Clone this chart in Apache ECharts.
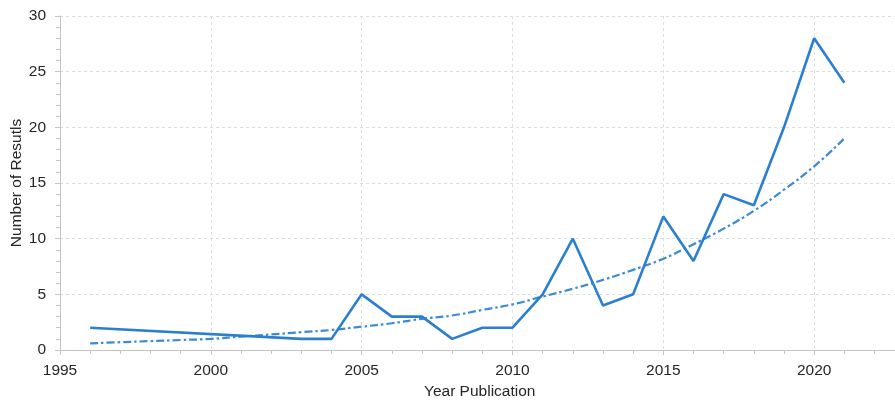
<!DOCTYPE html>
<html>
<head>
<meta charset="utf-8">
<script src="https://cdn.jsdelivr.net/npm/echarts@6/dist/echarts.min.js"></script>
<style>
  html, body { margin: 0; padding: 0; background: #fff; }
  #chart { width: 895px; height: 404px; }
</style>
</head>
<body>
<div id="chart"></div>
<script>
// Publications per year
const years  = [1996, 2003, 2004, 2005, 2006, 2007, 2008, 2009, 2010, 2011, 2012, 2013, 2014, 2015, 2016, 2017, 2018, 2019, 2020, 2021];
const counts = [2,    1,    1,    5,    3,    3,    1,    2,    2,    5,    10,   4,    5,    12,   8,    14,   13,   20,   28,   24];

// Exponential trend, one value per year
const trendYears  = [1996, 1997, 1998, 1999, 2000, 2001, 2002, 2003, 2004, 2005, 2006, 2007, 2008, 2009, 2010, 2011, 2012, 2013, 2014, 2015, 2016, 2017, 2018, 2019, 2020, 2021];
const trendValues = [0.6,  0.7,  0.8,  0.9,  1.0,  1.2,  1.4,  1.6,  1.8,  2.1,  2.4,  2.8,  3.1,  3.6,  4.1,  4.8,  5.5,  6.3,  7.2,  8.2,  9.5,  10.9, 12.5, 14.4, 16.5, 19.0];

const xTicks = [1995, 2000, 2005, 2010, 2015, 2020];
const yTicks = [0, 5, 10, 15, 20, 25, 30];

const FONT = 'Liberation Sans, Arial, Helvetica, sans-serif';
const TEXT = '#262626';
const AXIS = '#c4c4c4';
const GRIDC = '#dedede';

const chart = echarts.init(document.getElementById('chart'), null, { renderer: 'canvas' });

chart.setOption({
  animation: false,
  backgroundColor: '#fff',
  // the x axis runs on past the right edge of the canvas
  grid: { left: 60, top: 16, height: 334, width: 905, containLabel: false, outerBoundsMode: 'none' },
  xAxis: {
    type: 'value',
    min: xTicks[0],
    max: 2025,
    interval: 5,
    axisLine: { show: true, lineStyle: { color: AXIS, width: 1 } },
    axisTick: { show: true, length: 5, lineStyle: { color: AXIS } },
    minorTick: { show: true, splitNumber: 5, length: 4, lineStyle: { color: AXIS } },
    axisLabel: {
      margin: 13, color: TEXT, fontSize: 15.5, fontFamily: FONT,
      formatter: v => xTicks.includes(v) ? String(v) : ''
    },
    splitLine: { show: true, showMinLine: false, lineStyle: { color: GRIDC, type: [3, 3], width: 1 } }
  },
  yAxis: {
    type: 'value',
    min: yTicks[0],
    max: yTicks[yTicks.length - 1],
    interval: 5,
    name: 'Number of Resutls',
    nameLocation: 'middle',
    nameGap: 35,
    nameMoveOverlap: false,
    nameTextStyle: { color: TEXT, fontSize: 15.5, fontFamily: FONT },
    axisLine: { show: true, lineStyle: { color: AXIS, width: 1 } },
    axisTick: { show: true, length: 5, lineStyle: { color: AXIS } },
    minorTick: { show: true, splitNumber: 5, length: 4, lineStyle: { color: AXIS } },
    axisLabel: { margin: 14, color: TEXT, fontSize: 15.5, fontFamily: FONT },
    splitLine: { show: true, lineStyle: { color: GRIDC, type: [3, 3], width: 1 } }
  },
  graphic: [{
    type: 'text',
    left: 424,
    top: 384,
    style: { text: 'Year Publication', fill: TEXT, font: '15.5px ' + FONT }
  }],
  series: [
    {
      type: 'line',
      data: years.map((y, i) => [y, counts[i]]),
      showSymbol: false,
      lineStyle: { color: '#2b7fcf', width: 2.6 },
      itemStyle: { color: '#2b7fcf' },
      z: 3
    },
    {
      type: 'line',
      data: trendYears.map((y, i) => [y, trendValues[i]]),
      smooth: true,
      showSymbol: false,
      lineStyle: { color: '#3a8ad6', width: 2.2, type: [8, 3, 2.5, 3] },
      itemStyle: { color: '#3a8ad6' },
      z: 2
    }
  ]
});
</script>
</body>
</html>
